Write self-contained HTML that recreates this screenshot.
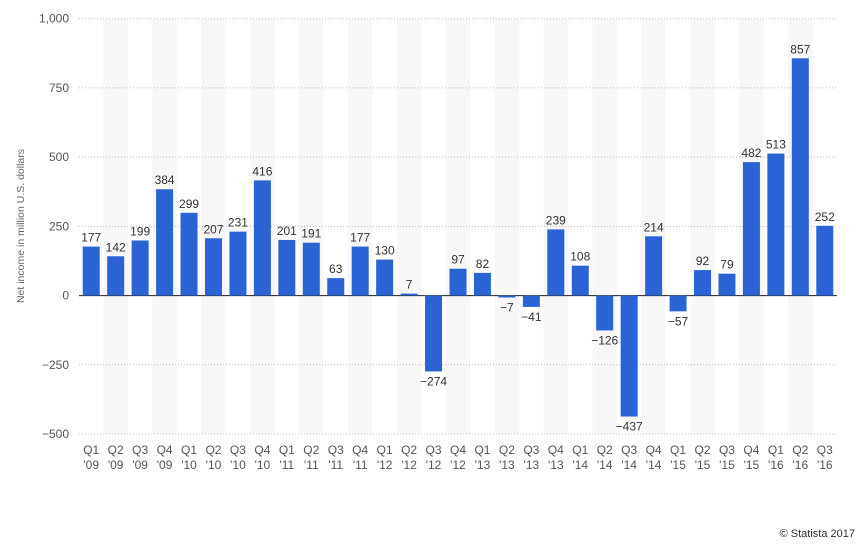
<!DOCTYPE html>
<html><head><meta charset="utf-8"><style>
body{margin:0;background:#fff;width:865px;height:548px;overflow:hidden;font-family:"Liberation Sans",sans-serif}
</style></head><body>
<svg id="chart" width="865" height="548" xmlns="http://www.w3.org/2000/svg" font-family="Liberation Sans, sans-serif">
<g id="stripes"></g><g id="grid"></g><g id="bars"></g><g id="labels"></g><g id="xticks"></g>
<text transform="translate(24,226) rotate(-90)" text-anchor="middle" font-size="10.5" fill="#666">Net income in million U.S. dollars</text>
<text x="855" y="537" text-anchor="end" font-size="11" fill="#333">© Statista 2017</text>
</svg>
<script>
const categories=["Q1 '09","Q2 '09","Q3 '09","Q4 '09","Q1 '10","Q2 '10","Q3 '10","Q4 '10","Q1 '11","Q2 '11","Q3 '11","Q4 '11","Q1 '12","Q2 '12","Q3 '12","Q4 '12","Q1 '13","Q2 '13","Q3 '13","Q4 '13","Q1 '14","Q2 '14","Q3 '14","Q4 '14","Q1 '15","Q2 '15","Q3 '15","Q4 '15","Q1 '16","Q2 '16","Q3 '16"];
const values=[177,142,199,384,299,207,231,416,201,191,63,177,130,7,-274,97,82,-7,-41,239,108,-126,-437,214,-57,92,79,482,513,857,252];
const yTicks=[1000,750,500,250,0,-250,-500];
const yTickLabels=["1,000","750","500","250","0","\u2212250","\u2212500"];
const NS="http://www.w3.org/2000/svg";
const x0=79,x1=837,yTop=18.7,yBot=434,vMax=1000,vMin=-500;
const bw=(x1-x0)/categories.length;
const y=v=>yTop+(vMax-v)/(vMax-vMin)*(yBot-yTop);
const xc=i=>x0+bw*(i+0.5);
function mk(tag,attrs,parent){const e=document.createElementNS(NS,tag);for(const k in attrs)e.setAttribute(k,attrs[k]);document.getElementById(parent).appendChild(e);return e;}
categories.forEach((c,i)=>{if(i%2===1){const r=mk('rect',{x:x0+bw*i,y:yTop,width:bw,height:yBot-yTop,fill:'#f7f7f7'},'stripes');

}});
yTicks.forEach((t,i)=>{const l=mk('line',{x1:x0,x2:x1,y1:y(t),y2:y(t),stroke:t===0?'#222':'#bbb','stroke-width':1,'stroke-dasharray':t===0?'':'1,2'},'grid');


const tx=mk('text',{x:69,y:y(t)+4,'text-anchor':'end','font-size':12,fill:'#555'},'grid');tx.textContent=yTickLabels[i];

});
values.forEach((v,i)=>{const top=Math.min(y(v),y(0)),h=Math.max(Math.abs(y(v)-y(0)),1);
const r=mk('rect',{x:xc(i)-8.5,y:top,width:17,height:h,fill:'#2b63d4'},'bars');


const ly=v>=0?y(v)-5:y(v)+14;
const t=mk('text',{x:xc(i),y:ly,'text-anchor':'middle','font-size':12,fill:'#333'},'labels');t.textContent=v<0?'\u2212'+Math.abs(v):String(v);


const parts=categories[i].split(' ');
[0,1].forEach(k=>{const xt=mk('text',{x:xc(i),y:k?469:454,'text-anchor':'middle','font-size':12,fill:'#555'},'xticks');xt.textContent=parts[k];

});});
</script>
</body></html>
